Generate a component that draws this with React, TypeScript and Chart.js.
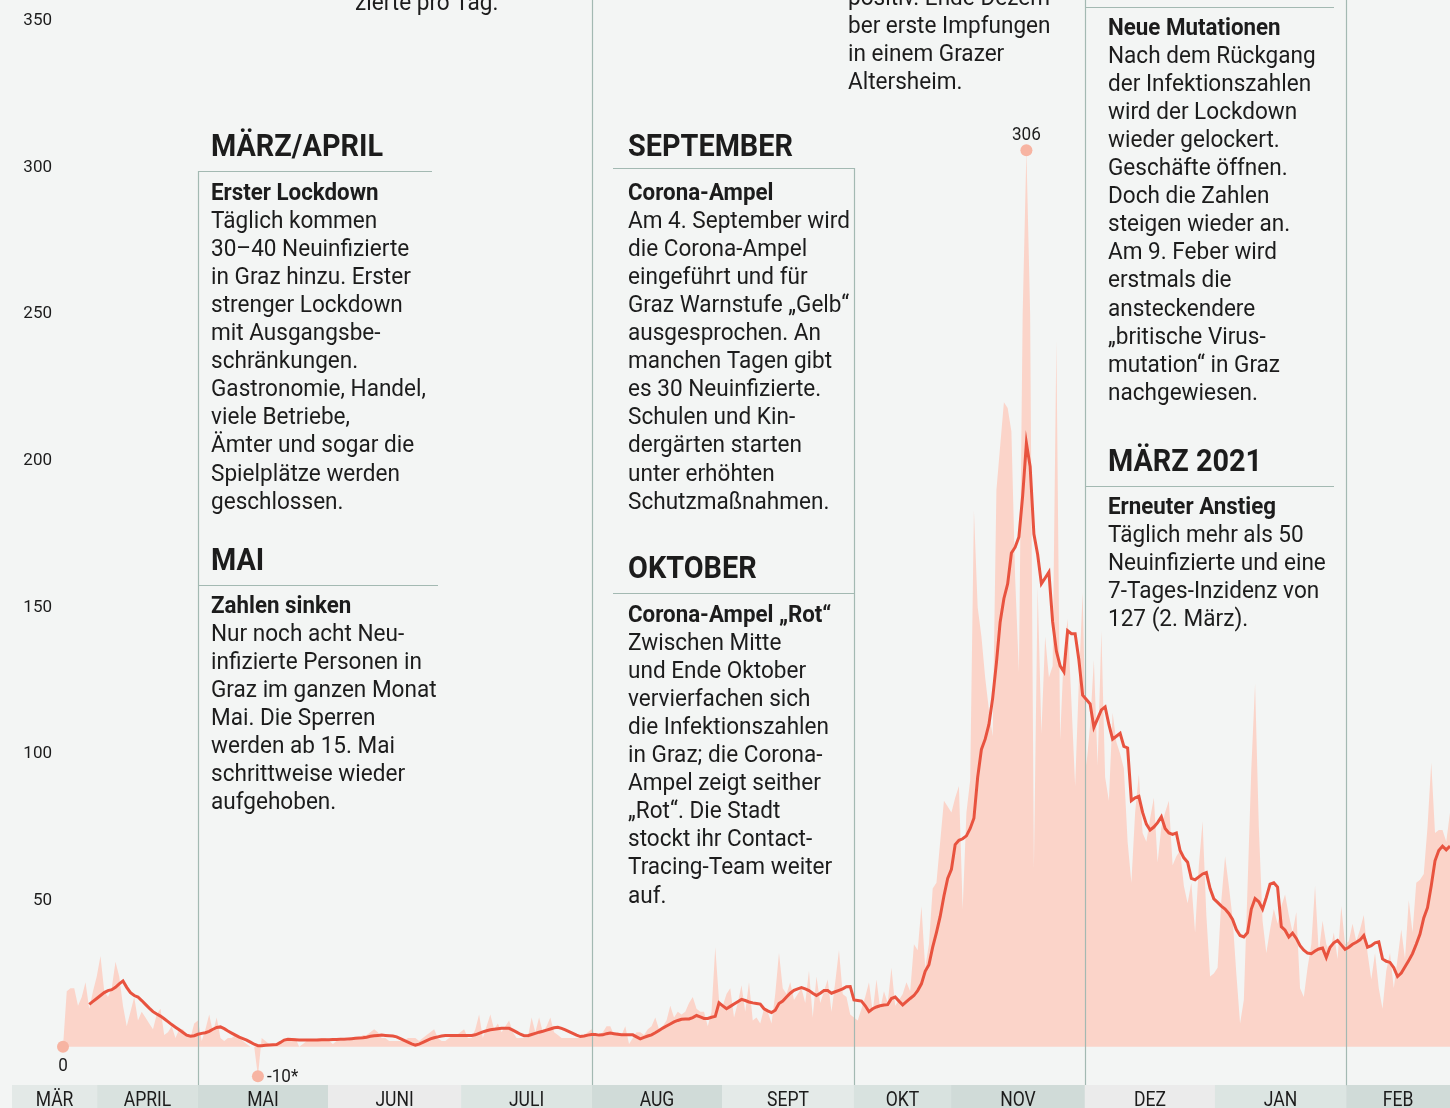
import React, { useEffect, useRef } from 'react';
import { Chart, registerables } from 'chart.js';

Chart.register(...registerables);

// Daily new infections in Graz, one value per day (day 0 = start of series)
const dailyCases: number[] = [
  0, 19, 20, 20, 14, 17, 22, 13, 19, 24,
  31, 19, 17, 20, 29, 24, 14, 7, 12, 17,
  9, 12, 10, 8, 6, 11, 13, 4, 5, 7,
  3, 6, 6, 4, 3, 8, 9, 2, 6, 11,
  5, 10, 3, 2, 3, 3, 4, 3, 2, 1,
  0, 0, -10, 3, 2, 1, 1, 1, 2, 2,
  3, 3, 3, 0, 1, 2, 2, 2, 3, 3,
  3, 2, 1, 2, 2, 2, 2, 3, 3, 3,
  4, 4, 5, 6, 5, 3, 3, 2, 2, 2,
  2, 2, 3, 3, 3, 2, 3, 4, 5, 6,
  3, 2, 2, 3, 4, 4, 5, 6, 3, 3,
  6, 11, 3, 7, 11, 6, 8, 5, 7, 9,
  5, 3, 3, 3, 3, 10, 5, 10, 5, 7,
  10, 5, 4, 3, 3, 3, 3, 3, 3, 4,
  5, 6, 4, 4, 5, 7, 7, 4, 5, 4,
  7, 1, 3, 5, 5, 4, 6, 7, 10, 6,
  7, 9, 14, 10, 12, 11, 12, 15, 17, 13,
  12, 12, 7, 12, 34, 16, 14, 18, 20, 10,
  15, 21, 12, 22, 9, 10, 8, 13, 12, 8,
  18, 32, 20, 18, 22, 16, 18, 20, 15, 26,
  10, 24, 15, 19, 23, 12, 22, 33, 18, 17,
  11, 10, 9, 13, 17, 22, 12, 23, 13, 19,
  15, 27, 14, 16, 18, 22, 19, 35, 33, 48,
  27, 35, 54, 56, 70, 84, 82, 80, 85, 89,
  47, 80, 91, 183, 150, 140, 126, 115, 106, 190,
  205, 220, 218, 210, 160, 128, 250, 306, 250, 61,
  157, 107, 140, 126, 130, 241, 105, 135, 146, 118,
  89, 125, 155, 96, 110, 132, 96, 142, 92, 84,
  114, 104, 100, 95, 70, 56, 80, 93, 73, 70,
  78, 85, 63, 75, 80, 84, 62, 65, 67, 55,
  49, 56, 39, 62, 77, 45, 24, 25, 27, 50,
  65, 55, 44, 25, 8, 16, 55, 95, 124, 75,
  43, 32, 40, 47, 42, 48, 52, 45, 39, 46,
  20, 17, 27, 35, 55, 32, 43, 35, 32, 39,
  30, 48, 35, 36, 42, 36, 40, 45, 32, 23,
  32, 20, 13, 26, 32, 20, 30, 40, 30, 50,
  39, 56, 57, 59, 75, 97, 73, 74, 74, 70,
  80,
];

// 7-day average (same day index)
const sevenDayAvg: (number | null)[] = [
  null, null, null, null, null, null, null, 14.5, 15.5, 16.5,
  17.5, 18.5, 19.2, 19.5, 20.3, 21.5, 22.5, 20.3, 18.5, 17.5,
  17, 15.8, 14.5, 13.2, 12, 11.2, 10.5, 9.6, 8.6, 7.6,
  6.7, 5.8, 4.9, 4, 3.6, 3.8, 4.3, 4.6, 4.8, 5.3,
  6, 6.6, 6.8, 6.2, 5.4, 4.7, 4, 3.3, 2.8, 2.3,
  1.6, 0.9, 0.4, 0.4, 0.5, 0.6, 0.7, 0.8, 1.5, 2.3,
  2.6, 2.5, 2.4, 2.3, 2.3, 2.3, 2.3, 2.3, 2.3, 2.4,
  2.4, 2.4, 2.5, 2.5, 2.6, 2.6, 2.7, 2.8, 2.9, 3.0,
  3.1, 3.3, 3.6, 3.8, 3.9, 4, 3.9, 3.8, 3.7, 3.4,
  2.8, 2.2, 1.6, 1.0, 0.6, 0.9, 1.5, 2.1, 2.7, 3.1,
  3.4, 3.7, 3.9, 3.9, 3.9, 3.9, 3.9, 3.9, 3.9, 3.9,
  4.1, 4.6, 5.1, 5.5, 5.8, 6, 6.2, 6.3, 6.3, 6.3,
  5.7, 5.0, 4.3, 3.8, 3.8, 4.2, 4.6, 5.0, 5.3, 5.7,
  6.1, 6.5, 6.7, 6.3, 5.8, 5.2, 4.6, 4.0, 3.5, 3.7,
  4.0, 4.2, 4.2, 4.0, 4.1, 4.5, 4.7, 4.5, 4.3, 4.1,
  4.1, 4.1, 4.1, 3.4, 2.7, 3.2, 3.7, 4.1, 4.8, 5.6,
  6.4, 7.1, 7.8, 8.5, 9.0, 9.4, 9.5, 9.5, 10, 10.7,
  10.2, 9.7, 9.7, 10.1, 10.4, 15, 14, 13, 13.8, 14.6,
  15.4, 16.2, 15.8, 15.3, 15, 14.8, 14.6, 13, 12.3, 11.7,
  12.5, 14.8, 15.6, 17, 18.3, 19.3, 19.8, 20.2, 19.8, 19.2,
  18.3, 17.5, 18.3, 19.2, 19.2, 18.3, 18.8, 19.3, 19.8, 20.5,
  20.6, 16, 15.8, 15.6, 14, 12, 13, 13.6, 14, 14.3,
  14.4, 16.5, 17, 15.6, 14.3, 15.4, 16.5, 17.5, 19.2, 21.5,
  25.8, 28, 34, 39, 44.5, 51.5, 57.5, 60.6, 69, 70.5,
  71, 72, 74.5, 78, 92, 101.5, 105, 110, 119, 131,
  145, 153, 158, 168.5, 170.5, 174, 188, 206, 198, 175,
  168, 158, 160, 162, 145, 135, 130, 128, 142, 141,
  141, 132, 120, 118.5, 117, 109, 112, 115, 116, 110,
  105, 106, 107, 102.5, 102, 84, 85, 85.5, 80, 76,
  74, 75, 76.5, 78.5, 74.5, 73, 72.5, 73, 67, 64.5,
  63, 57.5, 57, 58, 59, 59.5, 54, 50.5, 49.3, 48,
  47, 45.5, 43.5, 40, 38, 37.5, 39, 47, 50.6, 49.5,
  47, 51, 55.5, 56, 54.5, 41, 39.8, 37.5, 38.8, 37,
  34.5, 33, 32, 31.8, 32.7, 33.4, 33.7, 30.5, 34, 35.5,
  36.3, 34.8, 33.3, 34, 35, 35.7, 36.5, 38, 34, 34.5,
  35.5, 35.8, 30, 29.2, 28.8, 27, 24, 25.2, 27.3, 29.5,
  31.8, 35, 38.5, 44, 47.5, 55, 63.5, 67, 68.5, 67.2,
  68.5,
];

const yTicks = [50, 100, 150, 200, 250, 300, 350];
const yMin = -12;
const yMax = 350;
const xMaxDay = 370;

// Month strip under the chart (start day of each band, end of last band)
const monthLabels = ['MÄR', 'APRIL', 'MAI', 'JUNI', 'JULI', 'AUG', 'SEPT', 'OKT', 'NOV', 'DEZ', 'JAN', 'FEB'];
const monthBandStarts = [-13.6, 9.1, 36, 70.7, 106.2, 141.1, 175.8, 211, 236.9, 272.6, 307.3, 342.3];
const monthBandEnd = 370;

// Period dividers (day index)
const dividerDays = [36, 141.1, 211, 272.6, 342.3];

// Highlighted single days and their labels
const highlightDays = [0, 52, 257];
const highlightLabels = ['0', '-10*', '306'];

const BG = '#f3f5f4';
const AREA = '#fbd4c9';
const LINE = '#e8533f';
const DOT = '#f7b4a2';
const RULE = '#a3b9b2';
const TEXT = '#1c1c1c';
const FONT = 'Roboto, "Noto Sans", sans-serif';
const bandColors = ['#e3e9e7', '#d9e2df', '#d0dbd8', '#ebebeb', '#dce5e2', '#d0dbd8', '#e4eae8', '#d8e2df', '#d0dbd8', '#ebebeb', '#dce5e2', '#d0dbd8'];

type Block = { x: number; header?: string; headerBase?: number; sub?: string; subBase: number; lines: string[] };

const blocks: Block[] = [
  { x: 355, subBase: 10, lines: ['zierte pro Tag.'] },
  { x: 211, header: 'MÄRZ/APRIL', headerBase: 156, sub: 'Erster Lockdown', subBase: 199.5,
    lines: ['Täglich kommen', '30–40 Neuinfizierte', 'in Graz hinzu. Erster', 'strenger Lockdown', 'mit Ausgangsbe-', 'schränkungen.', 'Gastronomie, Handel,', 'viele Betriebe,', 'Ämter und sogar die', 'Spielplätze werden', 'geschlossen.'] },
  { x: 211, header: 'MAI', headerBase: 570, sub: 'Zahlen sinken', subBase: 612.5,
    lines: ['Nur noch acht Neu-', 'infizierte Personen in', 'Graz im ganzen Monat', 'Mai. Die Sperren', 'werden ab 15. Mai', 'schrittweise wieder', 'aufgehoben.'] },
  { x: 628, header: 'SEPTEMBER', headerBase: 156, sub: 'Corona-Ampel', subBase: 199.5,
    lines: ['Am 4. September wird', 'die Corona-Ampel', 'eingeführt und für', 'Graz Warnstufe „Gelb“', 'ausgesprochen. An', 'manchen Tagen gibt', 'es 30 Neuinfizierte.', 'Schulen und Kin-', 'dergärten starten', 'unter erhöhten', 'Schutzmaßnahmen.'] },
  { x: 628, header: 'OKTOBER', headerBase: 578, sub: 'Corona-Ampel „Rot“', subBase: 621.5,
    lines: ['Zwischen Mitte', 'und Ende Oktober', 'vervierfachen sich', 'die Infektionszahlen', 'in Graz; die Corona-', 'Ampel zeigt seither', '„Rot“. Die Stadt', 'stockt ihr Contact-', 'Tracing-Team weiter', 'auf.'] },
  { x: 848, subBase: 4.5, lines: ['positiv. Ende Dezem-', 'ber erste Impfungen', 'in einem Grazer', 'Altersheim.'] },
  { x: 1108, sub: 'Neue Mutationen', subBase: 34.5,
    lines: ['Nach dem Rückgang', 'der Infektionszahlen', 'wird der Lockdown', 'wieder gelockert.', 'Geschäfte öffnen.', 'Doch die Zahlen', 'steigen wieder an.', 'Am 9. Feber wird', 'erstmals die', 'ansteckendere', '„britische Virus-', 'mutation“ in Graz', 'nachgewiesen.'] },
  { x: 1108, header: 'MÄRZ 2021', headerBase: 471, sub: 'Erneuter Anstieg', subBase: 513.5,
    lines: ['Täglich mehr als 50', 'Neuinfizierte und eine', '7-Tages-Inzidenz von', '127 (2. März).'] },
];

const underlines = [
  { x1: 198, x2: 432, y: 171 },
  { x1: 198, x2: 438, y: 585 },
  { x1: 613, x2: 854, y: 168 },
  { x1: 613, x2: 854, y: 593 },
  { x1: 1085, x2: 1334, y: 7 },
  { x1: 1085, x2: 1334, y: 486 },
];
const dividerTops = [171, 0, 168, 0, 0];

function drawText(ctx: CanvasRenderingContext2D, text: string, x: number, y: number, size: number, weight: string, sx: number, align: CanvasTextAlign = 'left') {
  ctx.save();
  ctx.font = `${weight} ${size}px ${FONT}`;
  ctx.textBaseline = 'alphabetic';
  ctx.textAlign = align;
  ctx.fillStyle = TEXT;
  ctx.translate(x, y);
  ctx.scale(sx, 1);
  ctx.fillText(text, 0, 0);
  ctx.restore();
}

const decorPlugin = {
  id: 'grazDecor',
  beforeDraw(chart: any) {
    const ctx = chart.ctx as CanvasRenderingContext2D;
    ctx.save();
    ctx.fillStyle = BG;
    ctx.fillRect(0, 0, chart.width, chart.height);
    ctx.restore();
  },
  afterDatasetDraw(chart: any, args: any) {
    if (args.index !== 0) return;
    const ctx = chart.ctx as CanvasRenderingContext2D;
    const xs = chart.scales.x;
    ctx.save();
    ctx.strokeStyle = RULE;
    ctx.lineWidth = 1.2;
    dividerDays.forEach((d, i) => {
      const px = Math.round(xs.getPixelForValue(d)) + 0.5;
      ctx.beginPath();
      ctx.moveTo(px, dividerTops[i]);
      ctx.lineTo(px, 1086);
      ctx.stroke();
    });
    ctx.lineWidth = 1;
    underlines.forEach((u) => {
      ctx.beginPath();
      ctx.moveTo(u.x1, u.y + 0.5);
      ctx.lineTo(u.x2, u.y + 0.5);
      ctx.stroke();
    });
    ctx.restore();
  },
  afterDraw(chart: any) {
    const ctx = chart.ctx as CanvasRenderingContext2D;
    const xs = chart.scales.x;
    const ys = chart.scales.y;
    // month strip
    const bandTop = 1085;
    monthLabels.forEach((label, i) => {
      const x1 = xs.getPixelForValue(monthBandStarts[i]);
      const x2 = xs.getPixelForValue(i + 1 < monthBandStarts.length ? monthBandStarts[i + 1] : monthBandEnd);
      ctx.save();
      ctx.fillStyle = bandColors[i];
      ctx.fillRect(x1, bandTop, x2 - x1, chart.height - bandTop);
      ctx.restore();
      drawText(ctx, label, (x1 + x2) / 2, 1106, 19.5, 'normal', 0.9, 'center');
    });
    // highlight labels
    highlightDays.forEach((d, i) => {
      const px = xs.getPixelForValue(d);
      const py = ys.getPixelForValue(dailyCases[d]);
      const t = highlightLabels[i];
      if (dailyCases[d] > 100) drawText(ctx, t, px, py - 10, 18, 'normal', 0.95, 'center');
      else if (dailyCases[d] < 0) drawText(ctx, t, px + 9, py + 6, 18, 'normal', 0.95, 'left');
      else drawText(ctx, t, px, py + 24, 18, 'normal', 0.95, 'center');
    });
    // text blocks
    blocks.forEach((b) => {
      if (b.header && b.headerBase !== undefined) drawText(ctx, b.header, b.x, b.headerBase, 31, 'bold', 0.93);
      let y = b.subBase;
      if (b.sub) {
        drawText(ctx, b.sub, b.x, y, 23.5, 'bold', 0.95);
        y += 28.1;
      }
      b.lines.forEach((l) => {
        drawText(ctx, l, b.x, y, 23.5, 'normal', 0.96);
        y += 28.1;
      });
    });
  },
};

export default function App() {
  const ref = useRef<HTMLCanvasElement | null>(null);
  useEffect(() => {
    if (!ref.current) return;
    const chart = new Chart(ref.current, {
      type: 'line',
      data: {
        datasets: [
          {
            label: 'Neuinfizierte pro Tag',
            data: dailyCases.map((v, i) => ({ x: i, y: v })),
            fill: 'origin',
            backgroundColor: AREA,
            borderWidth: 0,
            borderColor: AREA,
            pointRadius: 0,
            tension: 0,
            order: 3,
          },
          {
            label: '7-Tage-Schnitt',
            data: sevenDayAvg.map((v, i) => ({ x: i, y: v })),
            fill: false,
            borderColor: LINE,
            borderWidth: 3,
            borderJoinStyle: 'miter',
            pointRadius: 0,
            tension: 0,
            spanGaps: false,
            order: 1,
          },
          {
            label: 'Markierungen',
            data: highlightDays.map((d) => ({ x: d, y: dailyCases[d] })),
            showLine: false,
            pointRadius: 6,
            pointBackgroundColor: DOT,
            pointBorderWidth: 0,
            clip: false,
            order: 2,
          },
        ] as any,
      },
      options: {
        responsive: false,
        maintainAspectRatio: false,
        animation: false,
        devicePixelRatio: 1,
        events: [],
        layout: { autoPadding: false, padding: { top: 21, bottom: 26, left: 0, right: 0 } },
        plugins: { legend: { display: false }, tooltip: { enabled: false } },
        scales: {
          x: { type: 'linear', min: 0, max: xMaxDay, display: false },
          y: {
            type: 'linear',
            min: yMin,
            max: yMax,
            grid: { display: false, drawTicks: false },
            border: { display: false },
            afterFit: (s: any) => { s.width = 63; },
            afterBuildTicks: (s: any) => { s.ticks = yTicks.map((v) => ({ value: v })); },
            ticks: { padding: 11, color: TEXT, font: { family: FONT, size: 17 } },
          },
        },
      } as any,
      plugins: [decorPlugin],
    });
    return () => chart.destroy();
  }, []);
  return (
    <div style={{ position: 'absolute', left: 0, top: 0, width: 1450, height: 1108, background: BG, overflow: 'hidden' }}>
      <canvas ref={ref} width={1450} height={1108} style={{ display: 'block' }} />
    </div>
  );
}
